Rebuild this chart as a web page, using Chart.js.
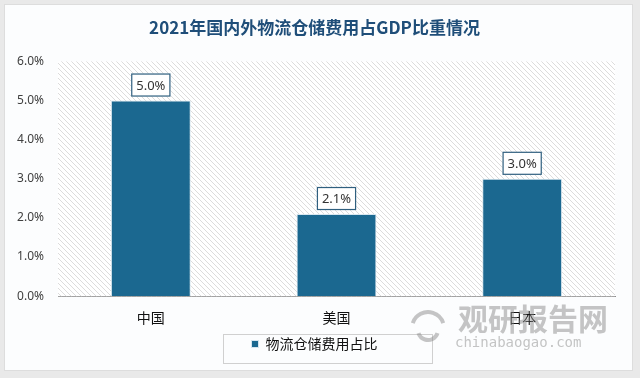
<!DOCTYPE html>
<html lang="zh">
<head>
    <meta charset="UTF-8">
    <title>2021年国内外物流仓储费用占GDP比重情况</title>
    <style>
        body { margin: 0; background: #e9e9e9; width: 640px; height: 378px; overflow: hidden; position: relative; }
        .panel { position: absolute; left: 4px; top: 4px; width: 627px; height: 365px; background: #fcfdfe; border: 1px solid #dddddd; }
        #wrap { position: absolute; left: 0; top: 0; width: 640px; height: 378px; }
    </style>
</head>
<body>
    <div class="panel"></div>
    <div id="wrap"><canvas id="barChart" width="640" height="378"></canvas></div>
    <script src="https://cdn.jsdelivr.net/npm/chart.js"></script>
    <script>
    const titleText = '2021年国内外物流仓储费用占GDP比重情况';
    const categories = ['中国', '美国', '日本'];
    const seriesName = '物流仓储费用占比';
    const seriesValues = [5.0, 2.1, 3.0];   // %
    const yMin = 0, yMax = 6, yStep = 1;

    const barColor = '#1b6890';
    const fontCJK = '"Noto Sans CJK SC", "Noto Sans", sans-serif';

    // diagonal hatch for the plot area
    function makeHatch(ctx) {
        const c = document.createElement('canvas');
        c.width = 5; c.height = 5;
        const g = c.getContext('2d');
        g.strokeStyle = '#dcdcdc';
        g.lineWidth = 1;
        g.beginPath();
        g.moveTo(-1, -1); g.lineTo(6, 6);
        g.moveTo(-1, 4); g.lineTo(1, 6);
        g.moveTo(4, -1); g.lineTo(6, 1);
        g.stroke();
        return ctx.createPattern(c, 'repeat');
    }

    const hatchPlugin = {
        id: 'hatch',
        beforeDatasetsDraw(chart) {
            const { ctx, chartArea: a } = chart;
            ctx.save();
            ctx.fillStyle = '#ffffff';
            ctx.fillRect(a.left, a.top, a.right - a.left, a.bottom - a.top);
            ctx.fillStyle = makeHatch(ctx);
            ctx.fillRect(a.left, a.top, a.right - a.left, a.bottom - a.top);
            ctx.restore();
        }
    };

    const labelPlugin = {
        id: 'valueBoxes',
        afterDatasetsDraw(chart) {
            const { ctx } = chart;
            const meta = chart.getDatasetMeta(0);
            ctx.save();
            ctx.font = '13px "Noto Sans", sans-serif';
            ctx.textAlign = 'center';
            ctx.textBaseline = 'middle';
            meta.data.forEach((bar, i) => {
                const txt = seriesValues[i].toFixed(1) + '%';
                const w = ctx.measureText(txt).width + 10;
                const h = 23;
                const x = bar.x - w / 2;
                const y = bar.y - 4 - h;
                ctx.fillStyle = '#ffffff';
                ctx.fillRect(x, y, w, h);
                ctx.strokeStyle = '#2f5f7f';
                ctx.lineWidth = 1.2;
                ctx.strokeRect(x + 0.5, y + 0.5, w - 1, h - 1);
                ctx.fillStyle = '#333333';
                ctx.fillText(txt, bar.x, y + h / 2 + 1);
            });
            ctx.restore();
        }
    };

    const framePlugin = {
        id: 'extras',
        afterDraw(chart) {
            const { ctx, legend } = chart;
            ctx.save();
            // legend frame
            const cy = (legend.top + legend.bottom) / 2;
            ctx.strokeStyle = '#d0d0d0';
            ctx.lineWidth = 1;
            ctx.strokeRect(223.5, Math.round(cy - 14.5) + 0.5, 209, 29);
            // watermark
            ctx.fillStyle = 'rgba(140,140,140,0.5)';
            ctx.font = 'bold 30px ' + fontCJK;
            ctx.textAlign = 'left';
            ctx.textBaseline = 'middle';
            ctx.fillText('观研报告网', 458, 319);
            ctx.font = '14px "DejaVu Sans Mono", monospace';
            ctx.fillText('chinabaogao.com', 455, 343);
            ctx.strokeStyle = 'rgba(140,140,140,0.5)';
            ctx.lineWidth = 4;
            ctx.beginPath();
            ctx.arc(428, 328, 16, Math.PI * 1.1, Math.PI * 1.9);
            ctx.stroke();
            ctx.beginPath();
            ctx.arc(428, 330, 10, Math.PI * 0.1, Math.PI * 0.9);
            ctx.stroke();
            ctx.restore();
        }
    };

    new Chart(document.getElementById('barChart'), {
        type: 'bar',
        data: {
            labels: categories,
            datasets: [{
                label: seriesName,
                data: seriesValues,
                backgroundColor: barColor,
                borderColor: '#d7e6ef',
                borderWidth: 1,
                categoryPercentage: 1,
                barPercentage: 0.43
            }]
        },
        plugins: [hatchPlugin, labelPlugin, framePlugin],
        options: {
            responsive: false,
            animation: false,
            devicePixelRatio: 1,
            layout: { padding: { left: 14, right: 25, top: 0, bottom: 17 } },
            scales: {
                x: {
                    grid: { display: false, drawTicks: false },
                    border: { display: true, color: '#8c8c8c', width: 1 },
                    afterFit(scale) { scale.height -= 4; },
                    ticks: { color: '#111', padding: 13, font: { size: 14, family: fontCJK } }
                },
                y: {
                    min: yMin, max: yMax,
                    grid: { display: false, drawTicks: false },
                    border: { display: false },
                    afterFit(scale) { scale.width = 44; },
                    ticks: {
                        stepSize: yStep,
                        padding: 14,
                        color: '#404040',
                        font: { size: 12, family: '"Noto Sans", sans-serif' },
                        callback: v => v.toFixed(1) + '%'
                    }
                }
            },
            plugins: {
                title: {
                    display: true,
                    text: titleText,
                    color: '#1f4e79',
                    font: { size: 17, weight: 'bold', family: fontCJK },
                    padding: { top: 17, bottom: 24 }
                },
                legend: {
                    position: 'bottom',
                    labels: {
                        color: '#111',
                        boxWidth: 7, boxHeight: 7,
                        padding: 2,
                        font: { size: 14, family: fontCJK }
                    }
                },
                tooltip: { enabled: false }
            }
        }
    });
    </script>
</body>
</html>
